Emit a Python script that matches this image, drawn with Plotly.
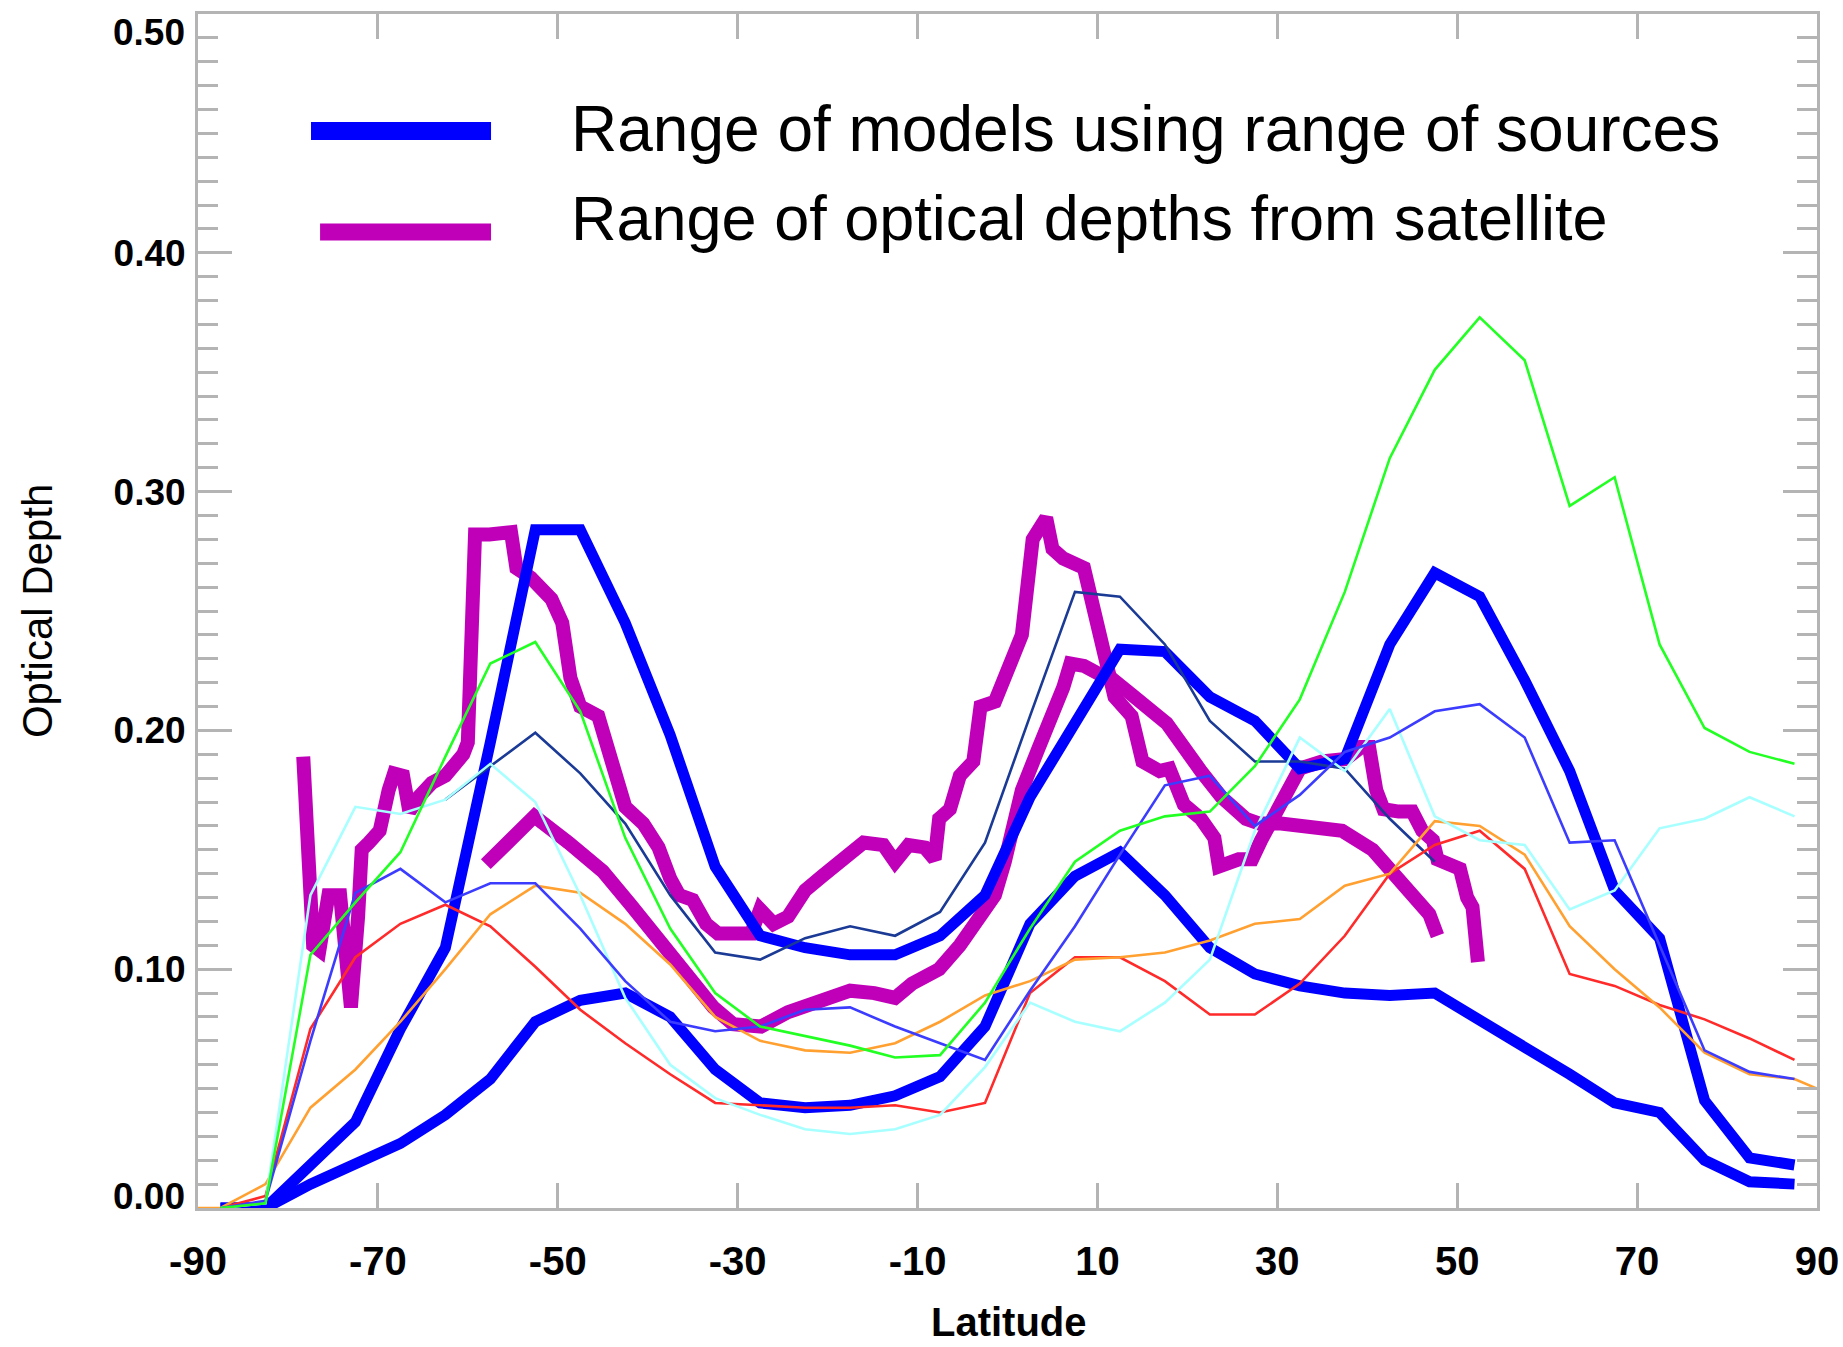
import plotly.graph_objects as go

# ---------------- data ----------------
lat5 = [-87.5, -82.5, -77.5, -72.5, -67.5, -62.5, -57.5, -52.5, -47.5, -42.5,
        -37.5, -32.5, -27.5, -22.5, -17.5, -12.5, -7.5, -2.5, 2.5, 7.5,
        12.5, 17.5, 22.5, 27.5, 32.5, 37.5, 42.5, 47.5, 52.5, 57.5,
        62.5, 67.5, 72.5, 77.5, 82.5, 87.5]

models_hi = [0.0, 0.0, 0.018, 0.036, 0.075, 0.109, 0.195, 0.284, 0.284, 0.245,
             0.198, 0.143, 0.114, 0.109, 0.106, 0.106, 0.114, 0.131, 0.172, 0.202,
             0.234, 0.233, 0.214, 0.204, 0.184, 0.188, 0.236, 0.266, 0.256, 0.221,
             0.183, 0.133, 0.113, 0.045, 0.021, 0.018]

models_lo = [0.0, 0.0, 0.010, 0.018, 0.027, 0.039, 0.054, 0.078, 0.087, 0.090,
             0.080, 0.058, 0.044, 0.042, 0.043, 0.047, 0.055, 0.076, 0.119, 0.139,
             0.149, 0.131, 0.109, 0.098, 0.093, 0.090, 0.089, 0.090, 0.079, 0.067,
             0.056, 0.044, 0.040, 0.020, 0.011, 0.010]

green = [0.0, 0.002, 0.106, 0.128, 0.149, 0.189, 0.228, 0.237, 0.208, 0.155,
         0.117, 0.090, 0.076, 0.072, 0.068, 0.063, 0.064, 0.086, 0.117, 0.145,
         0.158, 0.164, 0.166, 0.185, 0.213, 0.258, 0.314, 0.351, 0.373, 0.355,
         0.294, 0.306, 0.236, 0.201, 0.191, 0.186]

navy = [None, None, None, None, None, 0.171, 0.185, 0.199, 0.182, 0.161,
        0.131, 0.107, 0.104, 0.113, 0.118, 0.114, 0.124, 0.153, 0.206, 0.258,
        0.256, 0.236, 0.204, 0.187, 0.187, 0.184, 0.163, 0.145, None, None,
        None, None, None, None, None, None]

mblue = [0.0, 0.003, 0.070, 0.132, 0.142, 0.128, 0.136, 0.136, 0.117, 0.095,
         0.078, 0.074, 0.076, 0.083, 0.084, 0.076, 0.069, 0.062, 0.091, 0.118,
         0.148, 0.177, 0.181, 0.160, 0.173, 0.191, 0.197, 0.208, 0.211, 0.197,
         0.153, 0.154, 0.110, 0.066, 0.057, 0.054]

cyan = [0.0, 0.002, 0.131, 0.168, 0.165, 0.171, 0.186, 0.170, 0.131, 0.088,
        0.060, 0.046, 0.039, 0.033, 0.031, 0.033, 0.039, 0.059, 0.086, 0.078,
        0.074, 0.086, 0.104, 0.158, 0.197, 0.183, 0.209, 0.164, 0.154, 0.152,
        0.125, 0.133, 0.159, 0.163, 0.172, 0.164]

red = [0.0, 0.005, 0.075, 0.105, 0.119, 0.127, 0.118, 0.101, 0.083, 0.069,
       0.056, 0.044, 0.043, 0.042, 0.042, 0.043, 0.040, 0.044, 0.090, 0.105,
       0.105, 0.095, 0.081, 0.081, 0.094, 0.114, 0.140, 0.152, 0.158, 0.142,
       0.098, 0.093, 0.085, 0.079, 0.071, 0.062]

orange_lat = [-90.0] + lat5 + [90.0]
orange = [0.0, 0.0, 0.010, 0.042, 0.058, 0.078, 0.100, 0.123, 0.135, 0.132, 0.119,
          0.102, 0.080, 0.070, 0.066, 0.065, 0.069, 0.078, 0.089, 0.095, 0.104,
          0.105, 0.107, 0.112, 0.119, 0.121, 0.135, 0.140, 0.162, 0.160, 0.148,
          0.118, 0.100, 0.084, 0.065, 0.056, 0.054, 0.050]

sat_hi_lat = [-78.3, -77.6, -77.2, -76.5, -75.5, -74.2, -73.0, -72.2, -71.8, -71.0,
              -69.8, -68.8, -68.2, -67.2, -66.5, -65.5, -64.0, -62.5, -61.5, -60.5,
              -60.0, -59.2, -57.6, -55.2, -54.6, -53.0, -50.7, -49.5, -48.6, -47.5,
              -45.5, -43.5, -42.5, -40.5, -38.8, -37.5, -36.5, -35.0, -33.5, -32.2,
              -30.5, -28.5, -27.5, -26.0, -24.4, -22.5, -20.6, -17.9, -16.0, -13.8,
              -12.5, -11.0, -9.2, -8.1, -7.6, -6.4, -5.3, -3.8, -3.0, -1.4,
              -0.3, 0.8, 1.6, 2.8, 4.3, 5.0, 6.2, 8.5, 9.6, 10.8,
              11.9, 13.8, 15.0, 16.9, 18.0, 19.6, 21.5, 23.0, 23.5, 25.7,
              27.2, 28.2, 29.9, 31.6, 32.5, 35.0, 37.6, 39.3, 40.2, 41.0,
              41.8, 43.5, 45.0, 46.1, 47.3, 47.8, 49.1, 50.3, 51.1, 51.7, 52.3]
sat_hi = [0.189, 0.150, 0.110, 0.108, 0.131, 0.131, 0.084, 0.122, 0.150, 0.153,
          0.158, 0.175, 0.182, 0.181, 0.166, 0.172, 0.178, 0.181, 0.186, 0.190,
          0.195, 0.282, 0.282, 0.283, 0.268, 0.264, 0.255, 0.245, 0.222, 0.210,
          0.206, 0.177, 0.168, 0.161, 0.151, 0.138, 0.131, 0.129, 0.119, 0.115,
          0.115, 0.115, 0.125, 0.119, 0.122, 0.133, 0.139, 0.147, 0.153, 0.152,
          0.145, 0.152, 0.151, 0.146, 0.163, 0.167, 0.181, 0.187, 0.210, 0.212,
          0.222, 0.234, 0.240, 0.280, 0.289, 0.276, 0.272, 0.268, 0.250, 0.232,
          0.214, 0.206, 0.187, 0.183, 0.184, 0.169, 0.163, 0.155, 0.143, 0.146,
          0.146, 0.154, 0.165, 0.178, 0.184, 0.187, 0.188, 0.193, 0.193, 0.175,
          0.167, 0.166, 0.166, 0.158, 0.154, 0.146, 0.144, 0.142, 0.130, 0.126, 0.103]

sat_lo_lat = [-58.0, -52.6, -48.8, -45.0, -41.9, -39.2, -37.3, -35.0, -32.7, -30.5,
              -27.4, -24.4, -21.3, -17.5, -14.8, -12.5, -10.6, -7.6, -5.3, -2.6,
              -1.4, -0.3, 1.6, 3.5, 5.0, 6.2, 7.0, 8.5, 10.0, 11.5,
              13.8, 17.7, 21.5, 23.8, 26.5, 28.0, 30.4, 34.0, 37.2, 40.6,
              43.5, 46.9, 47.8]
sat_lo = [0.144, 0.164, 0.153, 0.141, 0.127, 0.115, 0.105, 0.096, 0.084, 0.077,
          0.076, 0.082, 0.086, 0.091, 0.090, 0.088, 0.094, 0.100, 0.110, 0.123,
          0.131, 0.145, 0.175, 0.193, 0.206, 0.218, 0.228, 0.227, 0.224, 0.222,
          0.215, 0.203, 0.183, 0.172, 0.163, 0.161, 0.161, 0.160, 0.158, 0.150,
          0.138, 0.123, 0.114]

x_tickvals = [-90, -70, -50, -30, -10, 10, 30, 50, 70, 90]
x_ticktext = ["-90", "-70", "-50", "-30", "-10", "10", "30", "50", "70", "90"]
y_tickvals = [0.0, 0.1, 0.2, 0.3, 0.4, 0.5]
y_ticktext = ["0.00", "0.10", "0.20", "0.30", "0.40", "0.50"]

legend_labels = ["Range of models using range of sources",
                 "Range of optical depths from satellite"]

# ---------------- styles ----------------
C_MAG = "#c000b8"
C_BLUE = "#0000ff"
FONT = "Liberation Sans, Arial, Helvetica, sans-serif"
AXC = "#b4b4b4"
TICKFONT_Y = dict(family=FONT, size=37, color="black", weight="bold")

fig = go.Figure()

# satellite range (thick magenta)
for xs, ys in [(sat_hi_lat, sat_hi), (sat_lo_lat, sat_lo)]:
    fig.add_trace(go.Scatter(x=xs, y=ys, mode="lines",
                             line=dict(color=C_MAG, width=14), showlegend=False))

# model range (thick blue)
for ys in [models_hi, models_lo]:
    fig.add_trace(go.Scatter(x=lat5, y=ys, mode="lines",
                             line=dict(color=C_BLUE, width=11), showlegend=False))

# individual models (thin)
thin = [(lat5, navy, "#1a3a96"), (lat5, red, "#ff2a2a"), (orange_lat, orange, "#ffa030"),
        (lat5, cyan, "#a8ffff"), (lat5, mblue, "#3c3cff"), (lat5, green, "#22ff22")]
for xs, ys, c in thin:
    fig.add_trace(go.Scatter(x=xs, y=ys, mode="lines", connectgaps=False,
                             line=dict(color=c, width=2.6), showlegend=False))

# legend samples and texts
fig.add_shape(type="line", xref="paper", yref="paper", x0=0.0698, x1=0.181,
              y0=0.902, y1=0.902, line=dict(color=C_BLUE, width=18))
fig.add_shape(type="line", xref="paper", yref="paper", x0=0.0754, x1=0.181,
              y0=0.8174, y1=0.8174, line=dict(color=C_MAG, width=17))
fig.add_annotation(x=0.229, y=0.9037, xref="paper", yref="paper", text=legend_labels[0],
                   showarrow=False, xanchor="left", yanchor="middle",
                   font=dict(family=FONT, size=64, color="black"))
fig.add_annotation(x=0.229, y=0.829, xref="paper", yref="paper", text=legend_labels[1],
                   showarrow=False, xanchor="left", yanchor="middle",
                   font=dict(family=FONT, size=63, color="black"))

# end labels of the y axis sit inside the frame (as in the original), so they are
# placed on the axis scale with a small shift; the inner ones are normal tick labels
y_axis_text = list(y_ticktext)
y_axis_text[0] = ""
y_axis_text[-1] = ""
for val, txt, shift in [(y_tickvals[0], y_ticktext[0], 12), (y_tickvals[-1], y_ticktext[-1], -18)]:
    fig.add_annotation(x=-0.007, y=val, xref="paper", yref="y", text=txt, yshift=shift,
                       showarrow=False, xanchor="right", yanchor="middle", font=TICKFONT_Y)

# axis titles
fig.add_annotation(x=-0.0994, y=0.5, xref="paper", yref="paper", text="Optical Depth",
                   textangle=-90, showarrow=False, xanchor="center", yanchor="middle",
                   font=dict(family=FONT, size=42, color="black"))
fig.add_annotation(x=0.501, y=-0.075, xref="paper", yref="paper", text="<b>Latitude</b>",
                   showarrow=False, xanchor="center", yanchor="top",
                   font=dict(family=FONT, size=40, color="black"))

fig.update_layout(
    width=1843, height=1347,
    margin=dict(l=198, r=26, t=14, b=139, autoexpand=False),
    paper_bgcolor="white", plot_bgcolor="white",
    showlegend=False,
)
fig.update_xaxes(range=[-90, 90], tickmode="array", tickvals=x_tickvals, ticktext=x_ticktext,
                 showgrid=False, zeroline=False, showline=True, linecolor=AXC, linewidth=3,
                 mirror="ticks", ticks="inside", ticklen=25, tickwidth=3, tickcolor=AXC,
                 ticklabelstandoff=16, ticklabeloverflow="allow",
                 tickfont=dict(family=FONT, size=40, color="black", weight="bold"))
fig.update_yaxes(range=[0, 0.5], tickmode="array", tickvals=y_tickvals, ticktext=y_axis_text,
                 showgrid=False, zeroline=False, showline=True, linecolor=AXC, linewidth=3,
                 mirror="ticks", ticks="inside", ticklen=34, tickwidth=3, tickcolor=AXC,
                 ticklabelstandoff=2, ticklabeloverflow="allow",
                 minor=dict(dtick=0.01, tick0=0, ticks="inside", ticklen=20, tickwidth=3,
                            tickcolor=AXC, showgrid=False),
                 tickfont=TICKFONT_Y)

fig.write_html("out.html")
